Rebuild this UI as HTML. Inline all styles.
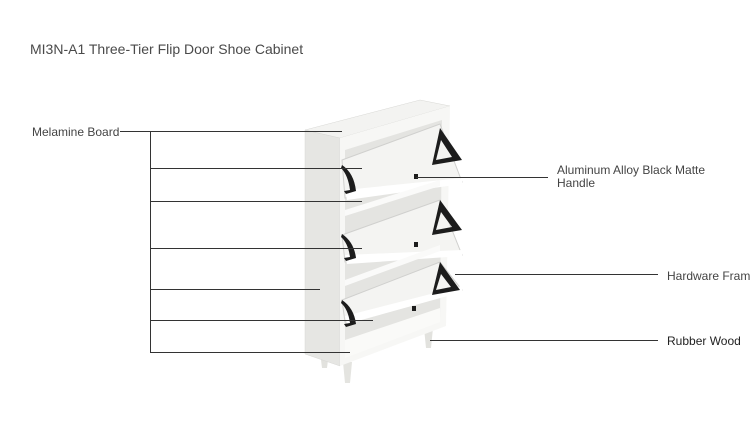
<!DOCTYPE html>
<html><head><meta charset="utf-8"><style>
body{margin:0;background:#fff;width:750px;height:425px;overflow:hidden;position:relative;font-family:"Liberation Sans",sans-serif}
.t{position:absolute;color:#444;white-space:nowrap}
</style></head><body>
<svg width="750" height="425" style="position:absolute;left:0;top:0">
<polygon points="320,352 329,352 327,368 322,368" fill="#e2e2de"/>
<polygon points="343,362 352,362 350,383 345,383" fill="#e4e4e0"/>
<polygon points="424,328 433,328 431,348 426,348" fill="#e2e2de"/>
<polygon points="305,130 340,138 340,366 305,354" fill="#e6e6e3" stroke="#d8d8d5" stroke-width="0.5"/>
<polygon points="305,130 420,100 450,106 340,138" fill="#f3f3f1" stroke="#d8d8d5" stroke-width="0.5"/>
<polygon points="340,138 450,106 446,326 340,366" fill="#f7f7f5"/>
<polygon points="345,150 442,120 440,320 345,356" fill="#e4e4e1"/>
<polygon points="345,340 440,308 440,322 345,358" fill="#fafaf8"/>
<polygon points="342,160 440,124 462,182 345,198" fill="#f4f4f2" stroke="#d0d0ce" stroke-width="1"/>
<polygon points="345,190 462,178 462,184 347,200" fill="#fff"/>
<polygon points="342,235 440,200 462,255 345,262" fill="#f4f4f2" stroke="#d0d0ce" stroke-width="1"/>
<polygon points="345,255 462,250 462,256 347,264" fill="#fff"/>
<polygon points="342,300 440,262 462,290 345,322" fill="#f4f4f2" stroke="#d0d0ce" stroke-width="1"/>
<polygon points="345,316 462,286 462,292 347,324" fill="#fff"/>
<polygon points="345,210 440,180 440,186 345,216" fill="#fafaf9"/>
<polygon points="345,280 440,245 440,251 345,286" fill="#fafaf9"/>
<g fill="#1c1c1c">
<path d="M342,165 q12,8 14,26 l-10,3 l-2,-3 l6,-1 q-2,-15 -9,-22z"/>
<path d="M342,234 q12,8 14,24 l-10,3 l-2,-3 l6,-1 q-2,-14 -9,-20z"/>
<path d="M342,300 q12,8 14,24 l-10,3 l-2,-3 l6,-1 q-2,-14 -9,-20z"/>
<path d="M440,128 l22,32 l-30,5 z M441,140 l-5,20 l16,-3 z" fill-rule="evenodd"/>
<path d="M440,200 l22,30 l-30,5 z M441,212 l-5,18 l16,-3 z" fill-rule="evenodd"/>
<path d="M440,262 l20,28 l-28,5 z M441,274 l-5,16 l15,-3 z" fill-rule="evenodd"/>
<rect x="414" y="174" width="4" height="5"/>
<rect x="414" y="242" width="4" height="5"/>
<rect x="412" y="306" width="4" height="5"/>
</g>
<g stroke="#333" stroke-width="1" fill="none">
<line x1="120" y1="131.5" x2="342" y2="131.5"/>
<line x1="150.5" y1="131" x2="150.5" y2="352"/>
<line x1="150" y1="168.5" x2="362" y2="168.5"/>
<line x1="150" y1="201.5" x2="362" y2="201.5"/>
<line x1="150" y1="248.5" x2="362" y2="248.5"/>
<line x1="150" y1="289.5" x2="320" y2="289.5"/>
<line x1="150" y1="320.5" x2="373" y2="320.5"/>
<line x1="150" y1="352.5" x2="350" y2="352.5"/>
<line x1="416" y1="177.5" x2="548" y2="177.5"/>
<line x1="455" y1="274.5" x2="658" y2="274.5"/>
<line x1="430" y1="340.5" x2="658" y2="340.5"/>
</g>
</svg>
<div class="t" style="left:30px;top:41px;font-size:14px;color:#4a4a4a">MI3N-A1 Three-Tier Flip Door Shoe Cabinet</div>
<div class="t" style="left:32px;top:125px;font-size:12px">Melamine Board</div>
<div class="t" style="left:557px;top:164px;font-size:12px;line-height:13px">Aluminum Alloy Black Matte<br>Handle</div>
<div class="t" style="left:667px;top:269px;font-size:12px">Hardware Frame</div>
<div class="t" style="left:667px;top:334px;font-size:12px;color:#222">Rubber Wood</div>
</body></html>
